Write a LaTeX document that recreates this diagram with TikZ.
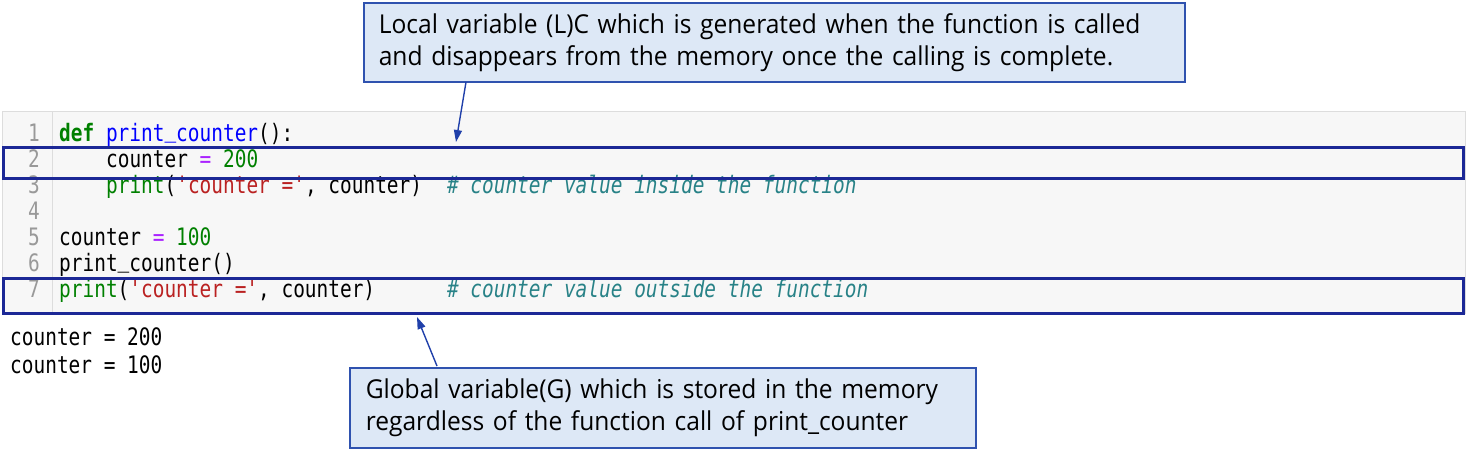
\documentclass[tikz,border=0pt]{standalone}
\usepackage{fontspec}
\usetikzlibrary{arrows.meta}
\newfontfamily\codefont[FakeStretch=0.81,Ligatures=TeXOff]{DejaVu Sans Mono}
\newfontfamily\notefont[FakeStretch=0.945]{Open Sans}
\definecolor{kwgreen}{RGB}{0,128,0}
\definecolor{fnblue}{RGB}{0,0,255}
\definecolor{oppurple}{RGB}{170,34,255}
\definecolor{strred}{RGB}{186,33,33}
\definecolor{cmteal}{RGB}{40,130,135}
\definecolor{lngray}{RGB}{153,153,153}
\definecolor{codebg}{RGB}{247,247,247}
\definecolor{codeborder}{RGB}{221,221,221}
\definecolor{hlblue}{RGB}{28,40,150}
\definecolor{notefill}{RGB}{221,232,246}
\definecolor{noteborder}{RGB}{47,82,175}
\definecolor{arrowblue}{RGB}{32,64,170}
\newcommand\cKw[1]{\textcolor{kwgreen}{\bfseries #1}}
\newcommand\cFn[1]{\textcolor{fnblue}{#1}}
\newcommand\cOp[1]{\textcolor{oppurple}{#1}}
\newcommand\cNum[1]{\textcolor{kwgreen}{#1}}
\newcommand\cBi[1]{\textcolor{kwgreen}{#1}}
\newcommand\cStr[1]{\textcolor{strred}{#1}}
\newcommand\cCm[1]{\textcolor{cmteal}{\itshape #1}}
\newcommand\cUs{\raisebox{4pt}{\_}}
\tikzset{
  codeline/.style={anchor=base west, inner sep=0pt, font=\codefont\fontsize{24}{26}\selectfont},
  lnum/.style={anchor=base east, inner sep=0pt, text=lngray, font=\codefont\fontsize{24}{26}\selectfont},
  outline/.style={anchor=base west, inner sep=0pt, font=\codefont\fontsize{24}{26}\selectfont},
  hlbox/.style={draw=hlblue, line width=3pt, inner sep=0pt},
  notebox/.style={draw=noteborder, fill=notefill, line width=1.6pt, align=left,
    inner ysep=0pt, font=\notefont\fontsize{26}{32}\selectfont},
  notearrow/.style={draw=arrowblue, line width=1.4pt, -{Triangle[length=12pt,width=8pt]}}
}
\begin{document}
\begin{tikzpicture}[x=1pt,y=-1pt]
\useasboundingbox (0,0) rectangle (1477,456);
% code area
\node[draw=codeborder, fill=codebg, line width=1pt, inner sep=0pt,
  minimum width=1463pt, minimum height=202pt, anchor=north west] (code) at (2,111) {};
\draw[codeborder, line width=1pt] (code.north west) ++(50,0) coordinate (g1) -- (g1 |- code.south);
% line numbers
\foreach \i in {1,...,7}{
  \node[lnum] (n\i) at (40,{141+26*(\i-1)}) {\i};
}
% code lines
\node[codeline] (l1) at (59,141) {\cKw{def} \cFn{print\cUs counter}():};
\node[codeline] (l2) at (105.9,167) {counter \cOp{=} \cNum{200}};
\node[codeline] (l3) at (105.9,193) {\cBi{print}(\cStr{'counter ='}, counter)};
\node[codeline] (m3) at (446.8,193) {\cCm{\# counter value inside the function}};
\node[codeline] (l5) at (59,245) {counter \cOp{=} \cNum{100}};
\node[codeline] (l6) at (59,271) {print\cUs counter()};
\node[codeline] (l7) at (59,297) {\cBi{print}(\cStr{'counter ='}, counter)};
\node[codeline] (m7) at (446.8,297) {\cCm{\# counter value outside the function}};
% output
\node[outline] (o1) at (10,345) {counter = 200};
\node[outline] (o2) at (10,373) {counter = 100};
% highlight boxes
\node[hlbox, minimum width=1460pt, minimum height=31pt, anchor=north west] (h1) at (2,145.5) {};
\node[hlbox, minimum width=1460pt, minimum height=35pt, anchor=north west] (h2) at (2,277) {};
% callouts
\node[notebox, minimum width=821pt, minimum height=79pt, text width=791pt, inner xsep=15pt,
  anchor=north west] (c1) at (363,2)
  {Local variable (L)C which is generated when the function is called\\
   and disappears from the memory once the calling is complete.};
\node[notebox, minimum width=626pt, minimum height=80pt, text width=594pt, inner xsep=16pt,
  anchor=north west] (c2) at (349,367)
  {Global variable(G) which is stored in the memory\\
   regardless of the function call of print\_counter};
% arrows
\coordinate (s1) at (466,82);
\coordinate (t1) at (456,142);
\coordinate (s2) at (437,366);
\coordinate (t2) at (417,317);
\draw[notearrow] (s1) -- (t1);
\draw[notearrow] (s2) -- (t2);
\end{tikzpicture}
\end{document}
